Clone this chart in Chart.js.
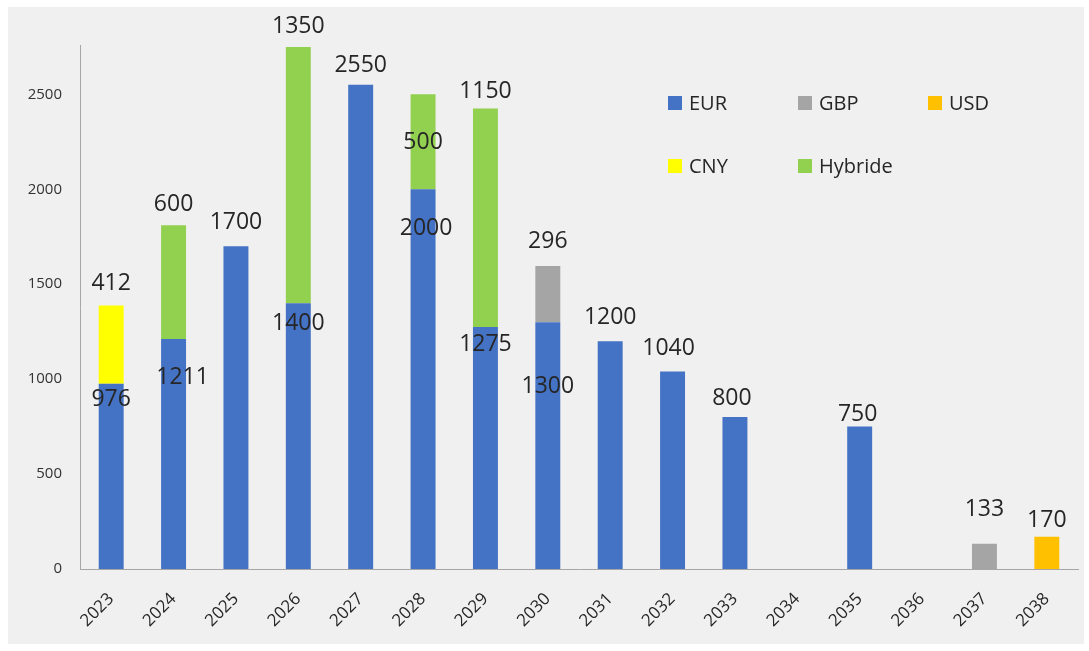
<!DOCTYPE html>
<html>
<head>
<meta charset="utf-8">
<script src="https://cdn.jsdelivr.net/npm/chart.js@4/dist/chart.umd.min.js"></script>
<style>
    html, body { margin: 0; padding: 0; background: #ffffff; }
    #frame {
        position: absolute; left: 8px; top: 7px;
        width: 1076px; height: 637px;
        background: #f0f0f0;
    }
    #legend {
        position: absolute; left: 0; top: 0;
        font-family: 'Open Sans', sans-serif; font-size: 20px; color: #262626;
    }
    .lg-item { position: absolute; display: flex; align-items: center; white-space: nowrap; }
    .lg-box { width: 14px; height: 14px; margin-right: 7px; }
</style>
</head>
<body>
<div id="frame">
    <canvas id="chart"></canvas>
    <div id="legend"></div>
</div>
<script>
// Data
const years = ['2023', '2024', '2025', '2026', '2027', '2028', '2029', '2030',
    '2031', '2032', '2033', '2034', '2035', '2036', '2037', '2038'];
const eurValues = [976, 1211, 1700, 1400, 2550, 2000, 1275, 1300, 1200, 1040, 800, null, 750, null, null, null];
const gbpValues = [null, null, null, null, null, null, null, 296, null, null, null, null, null, null, 133, null];
const usdValues = [null, null, null, null, null, null, null, null, null, null, null, null, null, null, null, 170];
const cnyValues = [412, null, null, null, null, null, null, null, null, null, null, null, null, null, null, null];
const hybrideValues = [null, 600, null, 1350, null, 500, 1150, null, null, null, null, null, null, null, null, null];
const yTicks = [0, 500, 1000, 1500, 2000, 2500];

// Label placement (px offsets from the top of each segment, negative = above)
const eurLabelDy = [16, 38, -24, 20, -19, 39, 18, 64, -24, -23, -19, 0, -12, 0, 0, 0];
const eurLabelDx = [0, 9, 0, 0, 0, 3, 0, 0, 0, -4, -3, 0, -2, 0, 0, 0];
const gbpLabelDy = [0, 0, 0, 0, 0, 0, 0, -25, 0, 0, 0, 0, 0, 0, -34, 0];
const usdLabelDy = [0, 0, 0, 0, 0, 0, 0, 0, 0, 0, 0, 0, 0, 0, 0, -16];
const cnyLabelDy = [-22, 0, 0, 0, 0, 0, 0, 0, 0, 0, 0, 0, 0, 0, 0, 0];
const hybrideLabelDy = [0, -21, 0, -20, 0, 48, -17, 0, 0, 0, 0, 0, 0, 0, 0, 0];

const series = [
    { label: 'EUR', data: eurValues, color: '#4472C4', dy: eurLabelDy, dx: eurLabelDx },
    { label: 'GBP', data: gbpValues, color: '#A5A5A5', dy: gbpLabelDy },
    { label: 'USD', data: usdValues, color: '#FFC000', dy: usdLabelDy },
    { label: 'CNY', data: cnyValues, color: '#FFFF00', dy: cnyLabelDy },
    { label: 'Hybride', data: hybrideValues, color: '#92D050', dy: hybrideLabelDy }
];

// Legend positions inside the plot (page layout)
const legendSpots = [
    { x: 660, y: 82 }, { x: 790, y: 82 }, { x: 920, y: 82 },
    { x: 660, y: 145 }, { x: 790, y: 145 }
];

function buildLegend() {
    const legend = document.getElementById('legend');
    series.forEach((s, i) => {
        const item = document.createElement('div');
        item.className = 'lg-item';
        item.style.left = legendSpots[i].x + 'px';
        item.style.top = legendSpots[i].y + 'px';
        item.innerHTML = `<span class="lg-box" style="background:${s.color}"></span><span>${s.label}</span>`;
        legend.appendChild(item);
    });
}

// Draw value labels on bars
const valueLabels = {
    id: 'valueLabels',
    afterDatasetsDraw(chart) {
        const ctx = chart.ctx;
        ctx.save();
        ctx.font = "23px 'Open Sans', sans-serif";
        ctx.fillStyle = '#262626';
        ctx.textAlign = 'center';
        ctx.textBaseline = 'middle';
        chart.data.datasets.forEach((ds, d) => {
            const meta = chart.getDatasetMeta(d);
            const s = series[d];
            ds.data.forEach((v, i) => {
                if (v === null) return;
                const el = meta.data[i];
                const dx = s.dx ? s.dx[i] : 0;
                ctx.fillText(String(v), el.x + dx, el.y + s.dy[i]);
            });
        });
        ctx.restore();
    }
};

function init() {
    buildLegend();
    const ctx = document.getElementById('chart').getContext('2d');
    new Chart(ctx, {
        type: 'bar',
        data: {
            labels: years,
            datasets: series.map(s => ({
                label: s.label,
                data: s.data,
                backgroundColor: s.color,
                borderWidth: 0,
                barPercentage: 0.4,
                categoryPercentage: 1
            }))
        },
        options: {
            responsive: true,
            maintainAspectRatio: false,
            animation: false,
            layout: { padding: { top: 38, right: 6, left: 0, bottom: 0 } },
            plugins: {
                legend: { display: false },
                tooltip: { enabled: false }
            },
            scales: {
                x: {
                    stacked: true,
                    grid: { display: false, drawTicks: false },
                    border: { display: true, color: '#a6a6a6', width: 1 },
                    ticks: {
                        color: '#262626',
                        font: { family: "'Open Sans', sans-serif", size: 17 },
                        minRotation: 45,
                        maxRotation: 45,
                        padding: 20,
                        autoSkip: false
                    },
                    afterFit(scale) { scale.height = 75; }
                },
                y: {
                    stacked: true,
                    min: 0,
                    max: 2760,
                    grid: { display: false, drawTicks: false },
                    border: { display: true, color: '#a6a6a6', width: 1 },
                    ticks: {
                        stepSize: 500,
                        color: '#333333',
                        font: { family: "'Open Sans', sans-serif", size: 15 },
                        padding: 18,
                        callback: v => String(v)
                    },
                    afterBuildTicks(scale) {
                        scale.ticks = yTicks.map(v => ({ value: v }));
                    },
                    afterFit(scale) { scale.width = 72; }
                }
            }
        },
        plugins: [valueLabels]
    });
}

document.addEventListener('DOMContentLoaded', init);
</script>
</body>
</html>
